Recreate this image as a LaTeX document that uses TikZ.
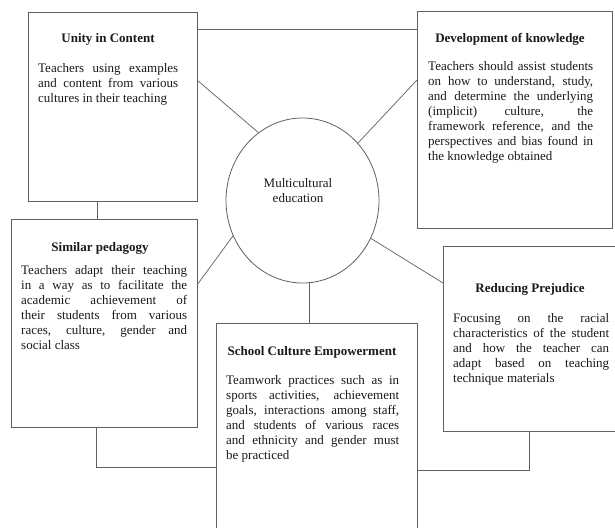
\documentclass[tikz,border=0pt]{standalone}
\usepackage{fontspec}
\setmainfont{Liberation Serif}
\usetikzlibrary{shapes.geometric}
\definecolor{linegray}{HTML}{606060}
\definecolor{textcol}{HTML}{1A1A1A}
\tikzset{
  box/.style={draw=linegray, line width=0.8pt, anchor=north west, inner sep=0pt},
  link/.style={draw=linegray, line width=0.7pt},
  title/.style={font=\fontsize{13}{15}\selectfont\bfseries, text=textcol, inner sep=0pt},
  body/.style={font=\fontsize{13}{15}\selectfont, text=textcol, align=justify, anchor=north west, inner sep=0pt,
    execute at begin node={\hyphenpenalty=10000 \exhyphenpenalty=10000 \emergencystretch=20pt }},
}
\begin{document}
\begin{tikzpicture}[x=1pt,y=-1pt]
\useasboundingbox (0,0) rectangle (615,527);
\clip (0,0) rectangle (615,527);
\fill[white] (0,0) rectangle (615,527);

% boxes
\node[box, minimum width=169pt, minimum height=189pt] (unity) at (28,12) {};
\node[box, minimum width=195pt, minimum height=217pt] (dev) at (417,11) {};
\node[box, minimum width=186pt, minimum height=208pt] (sim) at (11,219) {};
\node[box, minimum width=201pt, minimum height=230pt] (school) at (216,323) {};
\node[box, minimum width=176pt, minimum height=185pt] (red) at (443,246) {};
\node[draw=linegray, line width=0.8pt, ellipse, minimum width=153pt, minimum height=165pt, inner sep=0pt] (circ) at (302.5,200.5) {};

% texts
\node[font=\fontsize{13}{15}\selectfont, text=textcol, align=center, inner sep=0pt] (ctext) at (298,191) {Multicultural\\education};

\node[title] (t1) at (108,39) {Unity in Content};
\node[body, text width=140pt] (b1) at (38,63) {Teachers using examples\linebreak and content from various\linebreak cultures in their teaching};

\node[title] (t2) at (510,39) {Development of knowledge};
\node[body, text width=165pt] (b2) at (428,61) {Teachers should assist students\linebreak on how to understand, study,\linebreak and determine the underlying\linebreak (implicit) culture, the\linebreak framework reference, and the\linebreak perspectives and bias found in\linebreak the knowledge obtained};

\node[title] (t3) at (100,248) {Similar pedagogy};
\node[body, text width=166pt] (b3) at (21,265) {Teachers adapt their teaching\linebreak in a way as to facilitate the\linebreak academic achievement of\linebreak their students from various\linebreak races, culture, gender and\linebreak social class};

\node[title] (t4) at (312,352) {School Culture Empowerment};
\node[body, text width=173pt] (b4) at (226,375) {Teamwork practices such as in\linebreak sports activities, achievement\linebreak goals, interactions among staff,\linebreak and students of various races\linebreak and ethnicity and gender must\linebreak be practiced};

\node[title] (t5) at (530,289) {Reducing Prejudice};
\node[body, text width=156pt] (b5) at (453,313) {Focusing on the racial\linebreak characteristics of the student\linebreak and how the teacher can\linebreak adapt based on teaching\linebreak technique materials};

% connectors
\coordinate (uA) at (197,29);
\coordinate (dA) at (417,29);
\draw[link] (uA) -- (dA);
\coordinate (uB) at (197,80);
\draw[link] (uB) -- (circ.123);
\coordinate (dB) at (417,80);
\draw[link] (circ.46) -- (dB);
\coordinate (sB) at (197,285);
\draw[link] (sB) -- (circ.207);
\coordinate (rB) at (443,283);
\draw[link] (circ.331) -- (rB);
\draw[link] (circ.275) -- (circ.275 |- school.north);
\draw[link] (unity.south -| 97,0) -- (sim.north -| 97,0);
\coordinate (sC) at (96,467);
\draw[link] (sim.south -| sC) -- (sC) -- (school.west |- sC);
\coordinate (rC) at (529,470);
\draw[link] (school.east |- rC) -- (rC) -- (red.south -| rC);
\end{tikzpicture}
\end{document}
